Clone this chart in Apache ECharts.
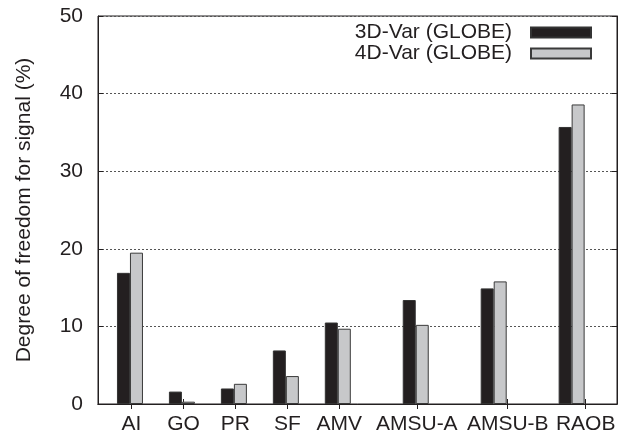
<!DOCTYPE html>
<html>
<head>
<meta charset="utf-8">
<script src="https://cdn.jsdelivr.net/npm/echarts@6/dist/echarts.min.js"></script>
<style>
html,body{margin:0;padding:0;background:#fff;}
#chart{width:624px;height:439px;}
</style>
</head>
<body>
<div id="chart"></div>
<script>
// Category names and tick labels
var categories = ['AI', 'GO', 'PR', 'SF', 'AMV', 'AMSU-A', 'AMSU-B', 'RAOB'];
// x position of each bar pair (gnuplot-style uneven spacing)
var barPositions = [1, 2, 3, 4, 5, 6.5, 8, 9.5];
// x position of each tick / tick label
var tickPositions = [1.03, 2.03, 3.03, 4.03, 5.03, 6.52, 8.27, 9.77];
// Series values (%)
var var3d = [16.9, 1.6, 2.0, 6.9, 10.5, 13.4, 14.9, 35.7];
var var4d = [19.5, 0.3, 2.6, 3.6, 9.7, 10.2, 15.8, 38.6];
var seriesNames = ['3D-Var (GLOBE)', '4D-Var (GLOBE)'];
var yTicks = { min: 0, max: 50, interval: 10 };

var FONT = 'Liberation Sans, Arial, Helvetica, sans-serif';
var TXT = '#231f20';

function pairs(vals) {
  return vals.map(function (v, i) { return [barPositions[i], v]; });
}
function labelFor(v) {
  for (var i = 0; i < tickPositions.length; i++) {
    if (Math.abs(tickPositions[i] - v) < 1e-6) return categories[i];
  }
  return '';
}

var chart = echarts.init(document.getElementById('chart'), null, { renderer: 'canvas' });
var xCommon = {
  type: 'value',
  min: 0.385,
  max: 10.373,
  splitLine: { show: false },
  axisLine: { show: true, lineStyle: { color: '#231f20', width: 1 } },
  axisTick: {
    show: true, inside: true, length: 5,
    customValues: tickPositions,
    lineStyle: { color: '#231f20', width: 1 }
  }
};
var yCommon = {
  type: 'value',
  min: yTicks.min, max: yTicks.max, interval: yTicks.interval,
  axisLine: { show: true, lineStyle: { color: '#231f20', width: 1 } },
  axisTick: { show: true, inside: true, length: 5, lineStyle: { color: '#231f20', width: 1 } }
};

chart.setOption({
  animation: false,
  backgroundColor: '#ffffff',
  textStyle: { fontFamily: FONT },
  grid: {
    left: 98, right: 7, top: 16, bottom: 35,
    show: true, borderColor: '#231f20', borderWidth: 1,
    containLabel: false, outerBoundsMode: 'none'
  },
  legend: {
    orient: 'vertical',
    right: 27, top: 17,
    align: 'right',
    itemWidth: 60, itemHeight: 10, itemGap: 0,
    icon: 'rect',
    selectedMode: false,
    textStyle: { fontFamily: FONT, fontSize: 21, color: TXT, lineHeight: 21, padding: [0, 14, 0, 0] },
    data: seriesNames
  },
  xAxis: [
    Object.assign({}, xCommon, {
      position: 'bottom',
      axisLabel: {
        show: true, margin: 10,
        customValues: tickPositions,
        formatter: function (v) { return labelFor(v); },
        fontFamily: FONT, fontSize: 21, color: TXT
      }
    }),
    Object.assign({}, xCommon, {
      position: 'top',
      axisLabel: { show: false }
    })
  ],
  yAxis: [
    Object.assign({}, yCommon, {
      position: 'left',
      name: 'Degree of freedom for signal (%)',
      nameLocation: 'middle',
      nameGap: 63,
      nameTextStyle: { fontFamily: FONT, fontSize: 21, color: TXT },
      axisLabel: { show: true, margin: 15, fontFamily: FONT, fontSize: 21, color: TXT },
      splitLine: { show: true, lineStyle: { type: [2, 2], color: '#555', width: 1 } }
    }),
    Object.assign({}, yCommon, {
      position: 'right',
      axisLabel: { show: false },
      splitLine: { show: false }
    })
  ],
  series: [
    {
      name: seriesNames[0],
      type: 'bar',
      xAxisIndex: 0, yAxisIndex: 0,
      barWidth: 13,
      barGap: '0%',
      itemStyle: { color: '#231f20', borderColor: '#333', borderWidth: 1 },
      data: pairs(var3d)
    },
    {
      name: seriesNames[1],
      type: 'bar',
      xAxisIndex: 0, yAxisIndex: 0,
      barWidth: 13,
      barGap: '0%',
      itemStyle: { color: '#c7c8ca', borderColor: '#3a3a3a', borderWidth: 1 },
      data: pairs(var4d)
    }
  ]
});
</script>
</body>
</html>
